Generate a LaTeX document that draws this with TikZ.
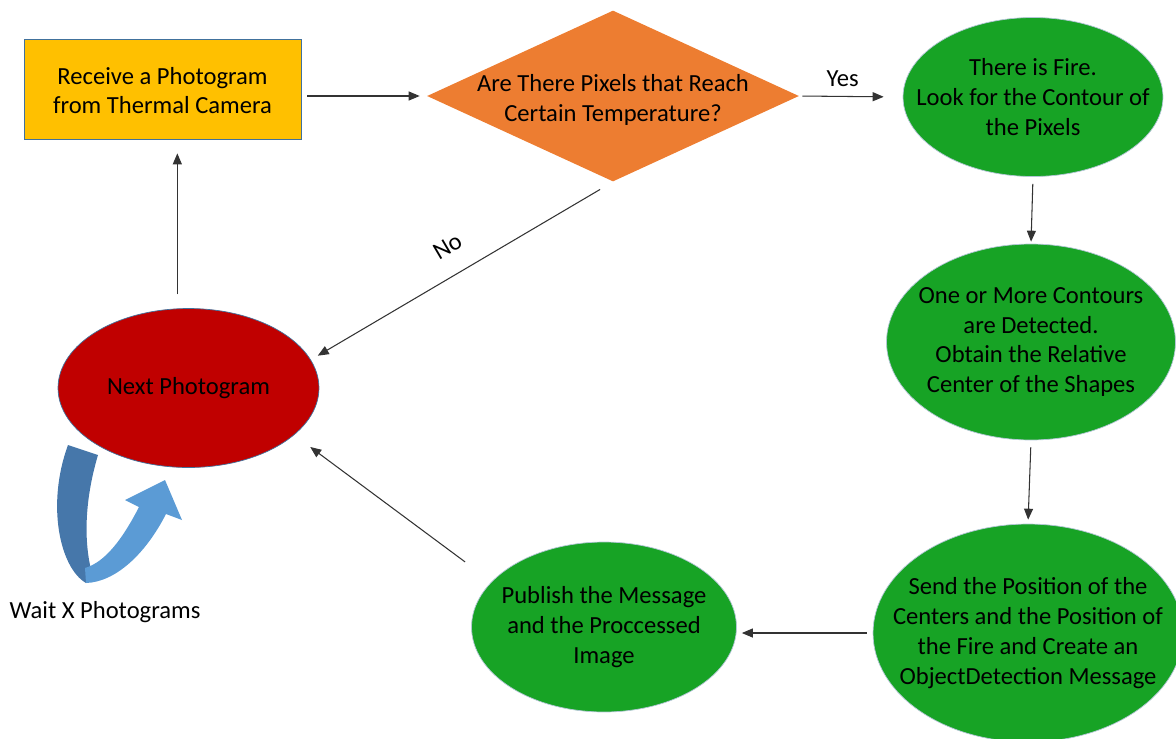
\documentclass[tikz,border=0pt]{standalone}
\usepackage{fontspec}
\setmainfont{Carlito}
\usetikzlibrary{shapes.geometric,arrows.meta}
\definecolor{boxyellow}{HTML}{FFC000}
\definecolor{decorange}{HTML}{ED7D31}
\definecolor{stepgreen}{HTML}{17A325}
\definecolor{loopred}{HTML}{C00000}
\definecolor{rimblue}{HTML}{41719C}
\definecolor{ribbondark}{HTML}{4677AA}
\definecolor{ribbonlight}{HTML}{5B9BD5}

\begin{document}
\begin{tikzpicture}[x=0.02cm, y=-0.02cm,
    font=\fontsize{14}{17}\selectfont,
    every label/.style={align=center, inner sep=0pt},
    flow/.style={draw=black!80, line width=0.6pt, -{Triangle[length=2.2mm,width=1.8mm]}},
    greenell/.style={ellipse, fill=stepgreen, draw=rimblue!40, line width=0.4pt, inner sep=0pt}]
    \useasboundingbox (0,0) rectangle (1176,738);
    % boxes
    \node[rectangle, fill=boxyellow, draw=rimblue, line width=0.4pt, minimum width=5.54cm, minimum height=2cm, inner sep=0pt,
        label={[yshift=-0.03cm]center:Receive a Photogram\\from Thermal Camera}] (receive) at (162.5,89) {};
    \node[diamond, fill=decorange, minimum width=7.44cm, minimum height=3.42cm, inner sep=0pt,
        label={[yshift=-0.08cm]center:Are There Pixels that Reach\\Certain Temperature?}] (pixels) at (613,96) {};
    \node[greenell, minimum width=5.2cm, minimum height=3.18cm,
        label={center:There is Fire.\\Look for the Contour of\\the Pixels}] (fire) at (1033,97) {};
    \node[greenell, minimum width=5.78cm, minimum height=3.92cm,
        label={center:One or More Contours\\are Detected.\\Obtain the Relative\\Center of the Shapes}] (contour) at (1031,342) {};
    \node[greenell, minimum width=6.2cm, minimum height=4.36cm,
        label={center:Send the Position of the\\Centers and the Position of\\the Fire and Create an\\ObjectDetection Message}] (send) at (1028,633) {};
    \node[greenell, minimum width=5.3cm, minimum height=3.4cm,
        label={center:Publish the Message\\and the Proccessed\\Image}] (publish) at (604,627) {};
    \node[ellipse, fill=loopred, draw=rimblue, line width=0.4pt, minimum width=5.22cm, minimum height=3.18cm, inner sep=0pt,
        label={center:Next Photogram}] (next) at (188.5,388) {};
    % wait ribbon
    \fill[ribbondark] (68,445) -- (98,455) .. controls (86,495) and (82,540) .. (93,577) -- (86,583) .. controls (60,568) and (46,505) .. (68,445) -- cycle;
    \fill[ribbonlight] (86,583) .. controls (115,582) and (145,555) .. (166,514) -- (182,520) -- (165,480) -- (125,500) -- (139,507) .. controls (122,540) and (105,562) .. (85,568) -- cycle;
    \node (wait) at (105,612) {Wait X Photograms};
    % connectors
    \draw[flow, shorten <=0.12cm, shorten >=0.14cm] (receive.east |- pixels.west) -- (pixels.west);
    \draw[flow, shorten <=0.06cm, shorten >=0.38cm] (pixels.east) -- node[pos=0.42, above=2pt] (yes) {Yes} (fire.west);
    \draw[flow, shorten <=0.14cm, shorten >=0.04cm] (fire.south) -- (contour.north);
    \draw[flow, shorten <=0.14cm, shorten >=0.08cm] (contour.south) -- (send.north);
    \draw[flow, shorten <=0.12cm, shorten >=0.1cm] (send.west) -- (send.west -| publish.east);
    \draw[flow, shorten <=0.66cm, shorten >=0.4cm] (publish.158) -- (next.336);
    \draw[flow, shorten <=0.3cm, shorten >=0.16cm] (pixels.south) -- node[sloped, above=8pt, pos=0.5] (no) {No} (next.13);
    \draw[flow, shorten <=0.28cm, shorten >=0.28cm] (next.98) -- (next.98 |- receive.south);
\end{tikzpicture}
\end{document}
